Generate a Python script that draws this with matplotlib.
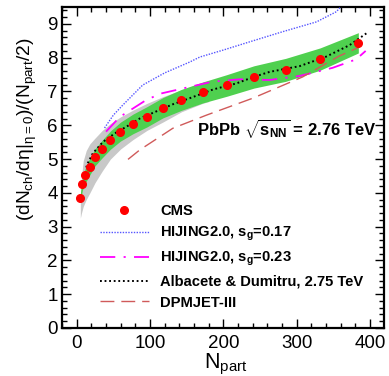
import matplotlib
matplotlib.use("Agg")
import matplotlib.pyplot as plt
from matplotlib.ticker import MultipleLocator
from matplotlib.lines import Line2D

plt.rcParams['font.family'] = ['Liberation Sans', 'DejaVu Sans']
plt.rcParams['mathtext.fontset'] = 'custom'
plt.rcParams['mathtext.rm'] = 'Liberation Sans'
plt.rcParams['mathtext.it'] = 'Liberation Sans'
plt.rcParams['mathtext.bf'] = 'Liberation Sans:bold'
plt.rcParams['lines.scale_dashes'] = False

# CMS data
cms_npart = [5, 7.8, 11.9, 17.7, 25, 34.5, 46, 59.6, 76.8, 95.8, 117.7, 142.7, 171.8, 205, 241.7, 285, 332, 384]
cms_val = [3.86, 4.26, 4.52, 4.77, 5.05, 5.29, 5.56, 5.81, 6.04, 6.25, 6.52, 6.75, 6.97, 7.18, 7.43, 7.64, 7.96, 8.44]
cms_syst = [0.12, 0.18, 0.22, 0.25, 0.25, 0.26, 0.27, 0.28, 0.29, 0.3, 0.3, 0.31, 0.31, 0.32, 0.33, 0.34, 0.33, 0.3]

# gray band
gray_npart = [5, 6.5, 9, 13, 18, 25, 35, 46, 60, 77, 96, 118, 143, 172, 180]
gray_hi = [3.9, 4.45, 4.95, 5.25, 5.45, 5.62, 5.85, 6.05, 6.25, 6.45, 6.65, 6.85, 7.05, 7.27, 7.3]
gray_lo = [3.25, 3.4, 3.6, 3.8, 4.0, 4.3, 4.65, 5.0, 5.3, 5.58, 5.85, 6.1, 6.4, 6.65, 6.7]

# HIJING2.0 sg=0.17
hij17_npart = [38, 50, 63, 90, 120, 154, 168, 199, 236, 281, 327, 354, 362]
hij17_val = [5.92, 6.3, 6.6, 7.19, 7.55, 7.87, 8.02, 8.22, 8.47, 8.77, 9.06, 9.36, 9.55]

# HIJING2.0 sg=0.23
hij23_npart = [40, 59, 95, 115, 145, 185, 222, 263, 304, 349, 381, 394]
hij23_val = [5.81, 6.25, 6.75, 6.94, 7.09, 7.29, 7.36, 7.34, 7.46, 7.7, 7.95, 8.2]

# Albacete & Dumitru
alb_npart = [13, 15, 22, 36, 52, 68, 86, 100, 131, 159, 186, 218, 240, 263, 304, 340, 372, 395]
alb_val = [4.75, 4.87, 5.17, 5.51, 5.76, 5.96, 6.2, 6.33, 6.62, 6.84, 7.06, 7.24, 7.42, 7.58, 7.75, 8.03, 8.37, 8.72]

# DPMJET-III
dpm_npart = [70, 86, 131, 177, 240, 308, 358, 386]
dpm_val = [4.99, 5.27, 5.91, 6.30, 6.8, 7.43, 8.05, 8.32]

fig = plt.figure(figsize=(3.89, 3.76), dpi=100)
ax = fig.add_axes([62/389, 48/376, 322/389, 321/376])

ax.fill_between(gray_npart, gray_lo, gray_hi, color='#c8c8c8', lw=0, zorder=1)
lo = [v - s for v, s in zip(cms_val, cms_syst)]
hi = [v + s for v, s in zip(cms_val, cms_syst)]
ax.fill_between(cms_npart, lo, hi, color='#4fd04f', lw=0, zorder=2)

ax.plot(hij17_npart, hij17_val, color='#5555ff', lw=1.0, ls=(0, (1.0, 1.0)), zorder=3)
ax.plot(hij23_npart, hij23_val, color='#ff00ff', lw=1.3, ls=(0, (11, 6, 1.5, 6)), zorder=3)
ax.plot(dpm_npart, dpm_val, color='#d05a5a', lw=1.0, ls=(0, (10, 5)), zorder=3)
ax.plot(alb_npart, alb_val, color='black', lw=1.4, ls=(0, (1.3, 2.0)), zorder=4)
ax.plot(cms_npart, cms_val, 'o', color='red', ms=5.5, mec='red', zorder=5)

ax.set_xlim(-20, 419)
ax.set_ylim(0, 9.5)
ax.xaxis.set_major_locator(MultipleLocator(100))
ax.xaxis.set_minor_locator(MultipleLocator(20))
ax.yaxis.set_major_locator(MultipleLocator(1))
ax.yaxis.set_minor_locator(MultipleLocator(0.2))
ax.tick_params(which='both', direction='in', top=True, right=True, width=1.0)
ax.tick_params(which='major', length=6.5, labelsize=13.5)
ax.tick_params(axis='x', which='major', pad=5)
ax.tick_params(axis='y', which='major', pad=3)
ax.tick_params(which='minor', length=3.5)
for s in ax.spines.values():
    s.set_linewidth(1.6)

ax.set_xlabel(r'N$_{\rm part}$', fontsize=15.5)
ax.xaxis.set_label_coords(0.51, -0.074)
ax.set_ylabel(r'(dN$_{\rm ch}$/d$\eta$|$_{\eta=0}$)/(N$_{\rm part}$/2)', fontsize=13.8,
              rotation=90, rotation_mode='default', ha='center', va='top')
ax.yaxis.set_label_coords(-0.108, 0.905)

ax.text(0.42, 0.622, r'PbPb $\sqrt{\mathbf{s}_{\mathbf{NN}}}$ = 2.76 TeV', transform=ax.transAxes,
        fontsize=12, fontweight='bold', va='center', ha='left')

handles = [
    Line2D([], [], marker='o', color='red', ls='none', ms=5.5),
    Line2D([], [], color='#5555ff', lw=1.0, ls=(0, (1.0, 1.0))),
    Line2D([], [], color='#ff00ff', lw=1.3, ls=(0, (11, 6, 1.5, 6))),
    Line2D([], [], color='black', lw=1.4, ls=(0, (1.3, 2.0))),
    Line2D([], [], color='#d05a5a', lw=1.0, ls=(0, (10, 5))),
]
labels = ['CMS', r'HIJING2.0, s$_{\mathbf{g}}$=0.17', r'HIJING2.0, s$_{\mathbf{g}}$=0.23',
          'Albacete & Dumitru, 2.75 TeV', 'DPMJET-III']
leg = ax.legend(handles, labels, loc='upper left', bbox_to_anchor=(0.118, 0.385),
                frameon=False, borderpad=0, borderaxespad=0, handlelength=3.3,
                handletextpad=0.8, labelspacing=0.45, prop={'weight': 'bold', 'size': 10.6})

fig.savefig('out.png', dpi=100)
